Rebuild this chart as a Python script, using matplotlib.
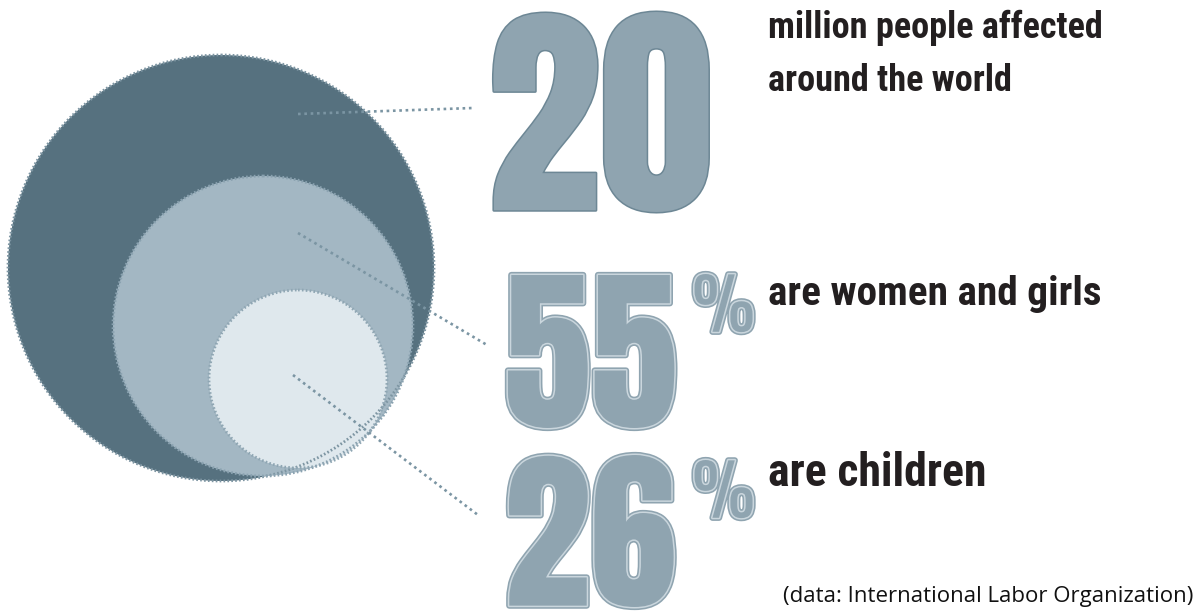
import matplotlib
matplotlib.use("Agg")
import matplotlib.pyplot as plt
import matplotlib.patheffects as pe
from matplotlib.patches import Circle
from matplotlib.textpath import TextPath
from matplotlib.font_manager import FontProperties

# data
values = ["20", "55", "26"]
suffixes = ["", "%", "%"]
labels = ["million people affected\naround the world",
          "are women and girls",
          "are children"]
source = "(data: International Labor Organization)"

# layout (pixels, y down)
circ_xy = [(221, 268), (263, 326), (298, 379)]
circ_r = [213, 150, 89]
circ_fill = ["#56717f", "#a3b7c3", "#dfe8ed"]
circ_edge = ["#7d95a2", "#8aa2b0", "#8fa6b3"]
lead_start = [(298, 114), (298, 233), (293, 375)]
lead_end = [(473, 108), (487, 345), (478, 515)]
num_box = [(487, 12, 725, 212), (504, 275, 692, 428), (504, 455, 683, 607)]
pct_box = [None, (692, 274, 750, 342), (692, 460, 750, 530)]
lab_x = 768
lab_right = [1100, 1098, 983]
lab_base = [38, 305, 486]
lab_gap = 53

PX = 100 / 72
num_fp = FontProperties(family=["Anton", "Oswald", "DejaVu Sans"], weight="bold")
pct_fp = FontProperties(family=["Oswald", "Anton", "DejaVu Sans"], weight="bold")
lab_fp = FontProperties(family=["Roboto Condensed", "Archivo Narrow",
                                "Barlow Condensed", "DejaVu Sans"], weight="bold")
src_fp = FontProperties(family=["Open Sans", "DejaVu Sans"])
num_col = "#8fa4b0"


def ink(s, fp):
    return TextPath((0, 0), s, size=100, prop=fp).get_extents()


def put(s, fp, x0, y_top, x1, y_bot, fit="h", ha="left", top=False, **kw):
    e = ink(s, fp)
    if fit == "h":
        size = 100 * (y_bot - y_top) / (e.height * PX)
    else:
        size = 100 * (x1 - x0) / (e.width * PX)
    k = size / 100 * PX
    base = y_bot + e.y0 * k
    if top:
        base = y_top + e.y1 * k
    ax.text(x0 if ha == "left" else x1, base, s, fontproperties=fp,
            fontsize=size, ha=ha, va="baseline", **kw)
    return size


fig = plt.figure(figsize=(12.04, 6.12), dpi=100)
ax = fig.add_axes([0, 0, 1, 1])
ax.set_xlim(0, 1204)
ax.set_ylim(612, 0)
ax.axis("off")

for (cx, cy), r, fc, ec in zip(circ_xy, circ_r, circ_fill, circ_edge):
    ax.add_patch(Circle((cx, cy), r, facecolor=fc, edgecolor="none", zorder=1))
    ax.add_patch(Circle((cx, cy), r, facecolor="none", edgecolor=ec,
                        lw=2.0, ls=(0, (0.6, 0.8)), zorder=2))

for (x0, y0), (x1, y1) in zip(lead_start, lead_end):
    ax.plot([x0, x1], [y0, y1], color="#7b95a3", lw=1.9,
            ls=(0, (1.0, 1.4)), zorder=3)

for i, v in enumerate(values):
    if i == 0:
        fx = [pe.Stroke(linewidth=2.2, foreground="#6d8795"), pe.Normal()]
    else:
        fx = [pe.Stroke(linewidth=4.5, foreground=num_col),
              pe.Stroke(linewidth=2.2, foreground="#cad6dd"), pe.Normal()]
    bx = num_box[i]
    put(v, num_fp, bx[0], bx[1], bx[2], bx[3], color=num_col,
        path_effects=fx, zorder=4)
    if suffixes[i]:
        pb = pct_box[i]
        put(suffixes[i], pct_fp, pb[0], pb[1], pb[2], pb[3], fit="w",
            top=True, color=num_col, path_effects=fx, zorder=4)

for i, lab in enumerate(labels):
    lines = lab.split("\n")
    e = ink(lines[0], lab_fp)
    size = 100 * (lab_right[i] - lab_x) / (e.width * PX)
    for j, line in enumerate(lines):
        ax.text(lab_x, lab_base[i] + j * lab_gap, line, fontproperties=lab_fp,
                fontsize=size, color="#231f20", ha="left", va="baseline",
                zorder=5)

put(source, src_fp, 785, 588, 1193, 607, fit="w", ha="right", color="#111111")

fig.savefig("out.png", dpi=100)
